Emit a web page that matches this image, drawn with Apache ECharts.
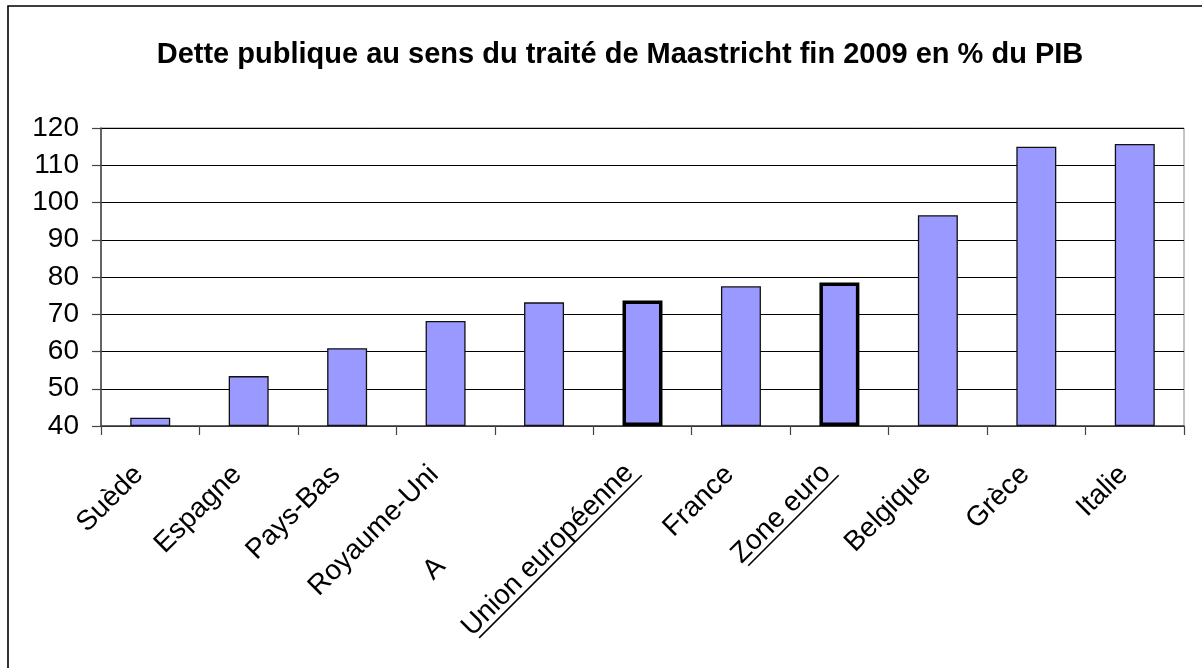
<!DOCTYPE html>
<html>
<head>
<meta charset="utf-8">
<script src="https://cdn.jsdelivr.net/npm/echarts@6/dist/echarts.min.js"></script>
<style>
html,body{margin:0;padding:0;background:#fff;}
#chart{width:1202px;height:668px;}
</style>
</head>
<body>
<div id="chart"></div>
<script>
const titleText = 'Dette publique au sens du traité de Maastricht fin 2009 en % du PIB';
const categories = ['Suède','Espagne','Pays-Bas','Royaume-Uni','Allemagne','Union européenne','France','Zone euro','Belgique','Grèce','Italie'];
const values = [42.2, 53.4, 60.9, 68.2, 73.2, 73.7, 77.5, 78.5, 96.6, 115.0, 115.7];
const highlighted = ['Union européenne','Zone euro'];
const yMin = 40, yMax = 120, yStep = 10;

const FONT = '"Liberation Sans", Arial, sans-serif';
const LABEL_SIZE = 28;
const PAD = [0, 16, 0, 0];

const ctx = document.createElement('canvas').getContext('2d');
ctx.font = LABEL_SIZE + 'px ' + FONT;
const rich = {
  t: {fontSize: LABEL_SIZE, fontFamily: FONT, color: '#000', lineHeight: 30, padding: PAD},
  tu: {fontSize: LABEL_SIZE, fontFamily: FONT, color: '#000', lineHeight: 22, padding: PAD},
  h: {fontSize: LABEL_SIZE, fontFamily: FONT, color: 'rgba(0,0,0,0)', lineHeight: 30, padding: PAD},
  sp: {width: 12, height: 1.6, lineHeight: 5}
};
highlighted.forEach((name, i) => {
  rich['u' + i] = {width: Math.round(ctx.measureText(name).width), height: 1.6, lineHeight: 5,
                   backgroundColor: '#000'};
});

const chart = echarts.init(document.getElementById('chart'), null, {renderer: 'canvas'});
chart.setOption({
  animation: false,
  backgroundColor: '#fff',
  title: {
    text: titleText,
    left: 615, top: 35, textAlign: 'center',
    textStyle: {fontFamily: FONT, fontWeight: 'bold', fontSize: 29, color: '#000'}
  },
  graphic: [{
    type: 'rect', silent: true,
    shape: {x: 8, y: 6, width: 1400, height: 1000},
    style: {fill: 'none', stroke: '#000', lineWidth: 1.6}
  }],
  grid: {left: 101, right: 18, top: 128, bottom: 242, show: true, borderColor: '#888', borderWidth: 1},
  xAxis: {
    type: 'category',
    data: categories,
    axisLine: {lineStyle: {color: '#444', width: 1.5}},
    axisTick: {show: true, length: 9, lineStyle: {color: '#444', width: 1.2}},
    axisLabel: {
      rotate: 45, margin: 33, interval: 0,
      fontFamily: FONT, fontSize: LABEL_SIZE, color: '#000',
      rich: rich,
      formatter: function (v) {
        const hi = highlighted.indexOf(v);
        if (hi >= 0) return '{tu|' + v + '}\n{u' + hi + '|}{sp|}';
        if (v === 'Allemagne') return '{t|A}{h|llemagne}';
        return '{t|' + v + '}';
      }
    }
  },
  yAxis: {
    type: 'value',
    min: yMin, max: yMax, interval: yStep, startValue: yMin,
    axisLine: {show: true, lineStyle: {color: '#444', width: 1.5}},
    axisTick: {show: true, length: 9, lineStyle: {color: '#444', width: 1.2}},
    axisLabel: {margin: 22, fontFamily: FONT, fontSize: 28, color: '#000'},
    splitLine: {show: true, lineStyle: {color: '#000', width: 1.2}}
  },
  series: [{
    type: 'bar',
    barWidth: '40.6%',
    data: values.map((v, i) => ({
      value: v,
      itemStyle: highlighted.indexOf(categories[i]) >= 0
        ? {color: '#9999FF', borderColor: '#000', borderWidth: 3.5}
        : {color: '#9999FF', borderColor: '#111', borderWidth: 1.3}
    }))
  }]
});
</script>
</body>
</html>
